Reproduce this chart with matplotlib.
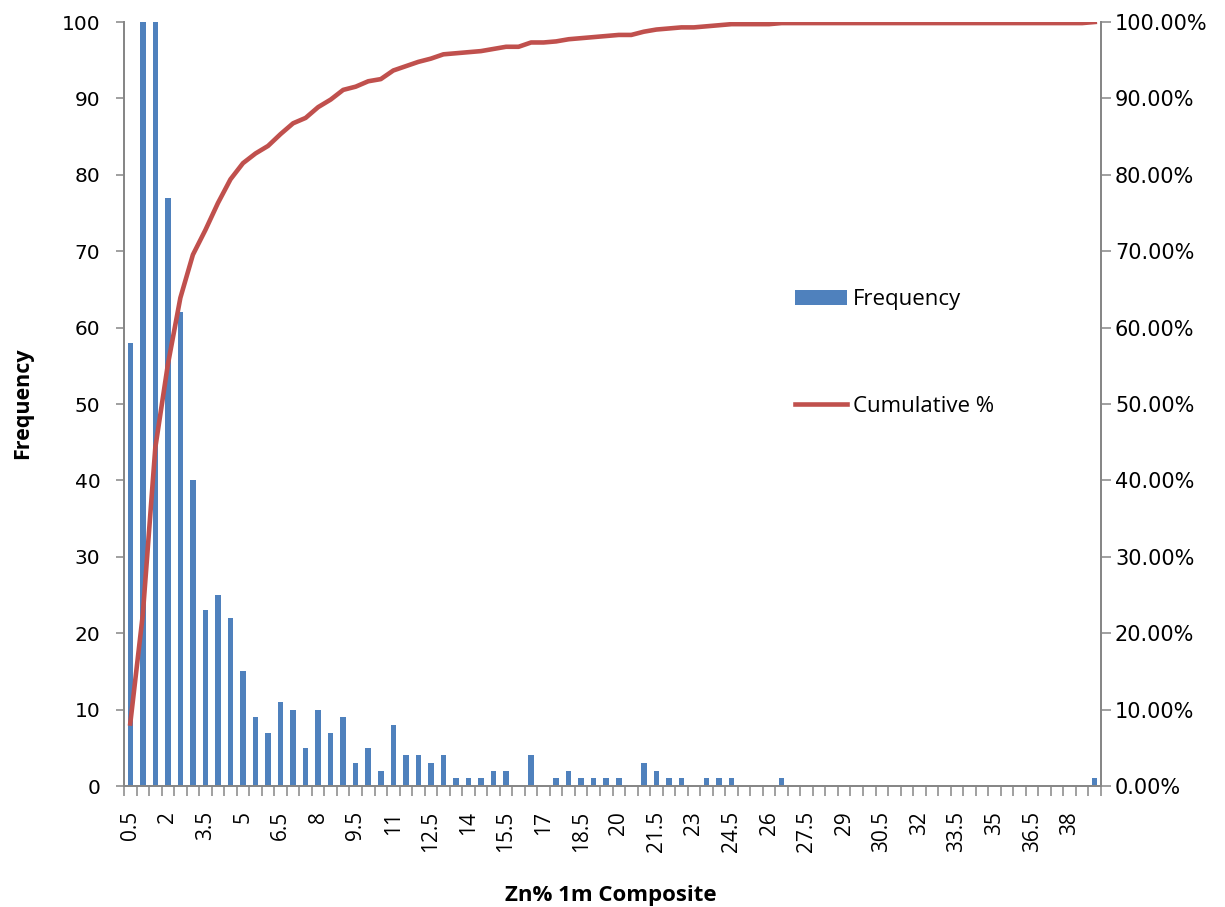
import matplotlib
matplotlib.use("Agg")
import matplotlib.pyplot as plt
from matplotlib.patches import Patch
from matplotlib.lines import Line2D
import numpy as np

# bin upper limits (Zn %) and counts of 1m composites in each bin
bins = [0.5, 1, 1.5, 2, 2.5, 3, 3.5, 4, 4.5, 5, 5.5, 6, 6.5, 7, 7.5, 8,
        8.5, 9, 9.5, 10, 10.5, 11, 11.5, 12, 12.5, 13, 13.5, 14, 14.5, 15,
        15.5, 16, 16.5, 17, 17.5, 18, 18.5, 19, 19.5, 20, 20.5, 21, 21.5,
        22, 22.5, 23, 23.5, 24, 24.5, 25, 25.5, 26, 26.5, 27, 27.5, 28,
        28.5, 29, 29.5, 30, 30.5, 31, 31.5, 32, 32.5, 33, 33.5, 34, 34.5,
        35, 35.5, 36, 36.5, 37, 37.5, 38, 38.5, 39]
frequency = [58, 101, 155, 77, 62, 40, 23, 25, 22, 15, 9, 7, 11, 10, 5, 10,
             7, 9, 3, 5, 2, 8, 4, 4, 3, 4, 1, 1, 1, 2,
             2, 0, 4, 0, 1, 2, 1, 1, 1, 1, 0, 3, 2,
             1, 1, 0, 1, 1, 1, 0, 0, 0, 1, 0, 0, 0,
             0, 0, 0, 0, 0, 0, 0, 0, 0, 0, 0, 0, 0,
             0, 0, 0, 0, 0, 0, 0, 0, 1]

counts = np.array(frequency)
cumulative = np.cumsum(counts) / counts.sum() * 100
x = np.arange(len(bins))

BLUE = "#4F81BD"
RED = "#C0504D"
GREY = "#868686"

fig = plt.figure(figsize=(12.25, 9.07), dpi=100)
ax = fig.add_axes([124 / 1225, 1 - 786 / 907, 977 / 1225, 764 / 907])
ax2 = ax.twinx()

ax.bar(x, counts, width=0.44, color=BLUE, zorder=2)
ax2.plot(x, cumulative, color=RED, lw=3.3, solid_joinstyle="round", zorder=3)

ax.set_xlim(-0.5, len(bins) - 0.5)
ax.set_ylim(0, 100)
ax2.set_ylim(0, 100)

ax.set_yticks(np.arange(0, 101, 10))
ax2.set_yticks(np.arange(0, 101, 10))
ax2.set_yticklabels(["%.2f%%" % v for v in np.arange(0, 101, 10)])

# tick marks on category boundaries, labels on every third bin
ax.set_xticks(np.arange(len(bins) + 1) - 0.5)
ax.set_xticklabels([])
ax.set_xticks(x[::3], minor=True)
ax.set_xticklabels(["%g" % b for b in bins[::3]], minor=True, rotation=90,
                   fontsize=15, family="Open Sans")
ax.tick_params(axis="x", which="major", length=7, width=1.1, color=GREY,
               direction="out")
ax.tick_params(axis="x", which="minor", length=0, pad=18)

ax.tick_params(axis="y", length=6, width=1.1, color=GREY, labelsize=14.5,
               pad=11)
ax2.tick_params(axis="y", length=7, width=1.1, color=GREY, labelsize=15,
                pad=3)

for a in (ax, ax2):
    a.spines["top"].set_visible(False)
    for s in ("left", "right", "bottom"):
        a.spines[s].set_color(GREY)
        a.spines[s].set_linewidth(1.3)
    a.patch.set_visible(False)

fig.text(23 / 1225, 1 - 403 / 907, "Frequency", rotation=90, ha="center",
         va="center", fontsize=15.5, fontweight="bold", family="Open Sans")
fig.text(611 / 1225, 1 - 895 / 907, "Zn% 1m Composite", ha="center",
         va="center", fontsize=16, fontweight="bold", family="Open Sans")

handles = [Patch(facecolor=BLUE, edgecolor="none"),
           Line2D([], [], color=RED, lw=3.3)]
fig.legend(handles, ["Frequency", "Cumulative %"], loc="center left",
           bbox_to_anchor=(795 / 1225, 1 - 353 / 907), frameon=False,
           borderpad=0, borderaxespad=0, handlelength=2.35, handleheight=0.65,
           handletextpad=0.27, labelspacing=3.85,
           prop={"family": "Open Sans", "size": 16})

fig.savefig("out.png", dpi=100)
